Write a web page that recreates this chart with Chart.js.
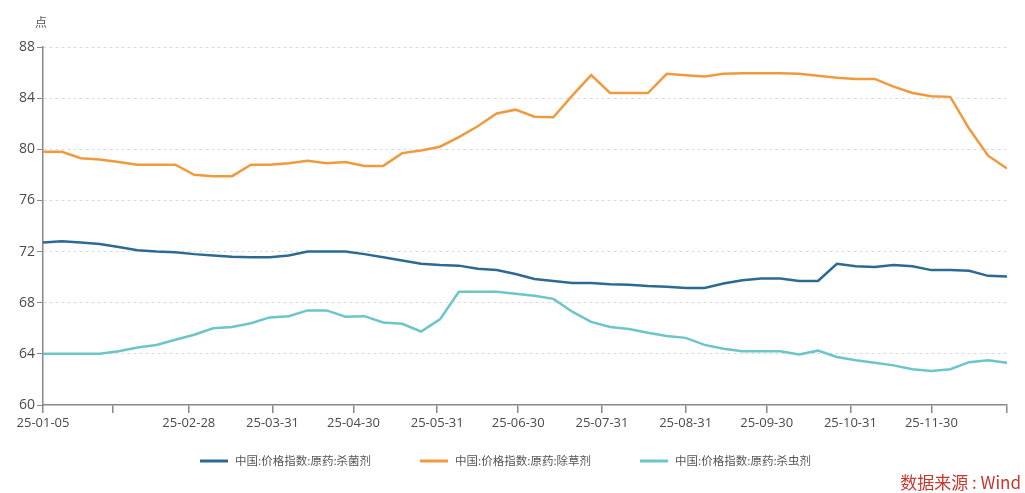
<!DOCTYPE html>
<html>
<head>
<meta charset="utf-8">
<script src="https://cdn.jsdelivr.net/npm/chart.js@4.4.1/dist/chart.umd.min.js"></script>
<style>
  html, body { margin: 0; padding: 0; background: #fff; }
  #wrap { width: 1025px; height: 493px; position: relative; }
</style>
</head>
<body>
<div id="wrap"><canvas id="priceChart"></canvas></div>
<script>
// Weekly dates (Sundays) of the index
const weekDates = [
    '2025-01-05', '2025-01-12', '2025-01-19', '2025-01-26',
    '2025-02-02', '2025-02-09', '2025-02-16', '2025-02-23',
    '2025-03-02', '2025-03-09', '2025-03-16', '2025-03-23', '2025-03-30',
    '2025-04-06', '2025-04-13', '2025-04-20', '2025-04-27',
    '2025-05-04', '2025-05-11', '2025-05-18', '2025-05-25',
    '2025-06-01', '2025-06-08', '2025-06-15', '2025-06-22', '2025-06-29',
    '2025-07-06', '2025-07-13', '2025-07-20', '2025-07-27',
    '2025-08-03', '2025-08-10', '2025-08-17', '2025-08-24', '2025-08-31',
    '2025-09-07', '2025-09-14', '2025-09-21', '2025-09-28',
    '2025-10-05', '2025-10-12', '2025-10-19', '2025-10-26',
    '2025-11-02', '2025-11-09', '2025-11-16', '2025-11-23', '2025-11-30',
    '2025-12-07', '2025-12-14', '2025-12-21', '2025-12-28'
];

// 杀菌剂 (fungicide)
const fungicide = [
    72.7, 72.8, 72.7, 72.6, 72.35, 72.1, 72.0, 71.95, 71.8, 71.7,
    71.6, 71.55, 71.55, 71.7, 72.0, 72.0, 72.0, 71.8, 71.55, 71.3,
    71.05, 70.95, 70.9, 70.65, 70.55, 70.25, 69.85, 69.7, 69.55, 69.55,
    69.45, 69.4, 69.3, 69.25, 69.15, 69.15, 69.5, 69.75, 69.9, 69.9,
    69.7, 69.7, 71.05, 70.85, 70.8, 70.95, 70.85, 70.55, 70.55, 70.5,
    70.1, 70.05
];

// 除草剂 (herbicide)
const herbicide = [
    79.8, 79.8, 79.3, 79.2, 79.0, 78.8, 78.8, 78.8, 78.0, 77.9,
    77.9, 78.8, 78.8, 78.9, 79.1, 78.9, 79.0, 78.7, 78.7, 79.7,
    79.9, 80.2, 80.95, 81.8, 82.8, 83.1, 82.55, 82.5, 84.2, 85.8,
    84.4, 84.4, 84.4, 85.9, 85.8, 85.7, 85.9, 85.95, 85.95, 85.95,
    85.9, 85.75, 85.6, 85.5, 85.5, 84.9, 84.4, 84.15, 84.1, 81.6,
    79.5, 78.5
];

// 杀虫剂 (insecticide)
const insecticide = [
    64.0, 64.0, 64.0, 64.0, 64.2, 64.5, 64.7, 65.1, 65.5, 66.0,
    66.1, 66.4, 66.85, 66.95, 67.4, 67.4, 66.9, 66.95, 66.45, 66.35,
    65.75, 66.7, 68.85, 68.85, 68.85, 68.7, 68.55, 68.3, 67.3, 66.5,
    66.1, 65.95, 65.65, 65.4, 65.25, 64.7, 64.4, 64.2, 64.2, 64.2,
    63.95, 64.25, 63.75, 63.5, 63.3, 63.1, 62.8, 62.65, 62.8, 63.35,
    63.5, 63.3
];

const seriesNames = ['中国:价格指数:原药:杀菌剂', '中国:价格指数:原药:除草剂', '中国:价格指数:原药:杀虫剂'];
const seriesColors = ['#2d6a93', '#f09a3e', '#6cc5c8'];

// x axis ticks (month ends), the first and last one mark the ends of the axis
const tickDates = ['2025-01-05', '2025-01-31', '2025-02-28', '2025-03-31', '2025-04-30', '2025-05-31',
    '2025-06-30', '2025-07-31', '2025-08-31', '2025-09-30', '2025-10-31', '2025-11-30', '2025-12-28'];
const tickLabels = ['25-01-05', '', '25-02-28', '25-03-31', '25-04-30', '25-05-31',
    '25-06-30', '25-07-31', '25-08-31', '25-09-30', '25-10-31', '25-11-30', ''];

const yTicks = [60, 64, 68, 72, 76, 80, 84, 88];

// days since the first date
const startTime = Date.parse(weekDates[0]);
function dayNum(d) {
    return (Date.parse(d) - startTime) / 86400000;
}

function toPoints(values) {
    return values.map((v, i) => ({ x: dayNum(weekDates[i]), y: v }));
}

const tickDays = tickDates.map(dayNum);
const fontFamily = '"Open Sans", "Noto Sans CJK SC", sans-serif';

// draws the unit, the legend and the source note
const extrasPlugin = {
    id: 'extras',
    afterDraw(chart) {
        const ctx = chart.ctx;
        ctx.save();

        // unit above the y axis
        ctx.fillStyle = '#555';
        ctx.font = '12px "Noto Sans CJK SC"';
        ctx.textAlign = 'center';
        ctx.textBaseline = 'middle';
        ctx.fillText('点', 41, 22);

        // legend
        const legendX = [200, 420, 640];
        const legendY = 461;
        ctx.font = '11.5px "Noto Sans CJK SC"';
        ctx.textAlign = 'left';
        chart.data.datasets.forEach((ds, i) => {
            ctx.strokeStyle = ds.borderColor;
            ctx.lineWidth = 3;
            ctx.beginPath();
            ctx.moveTo(legendX[i], legendY);
            ctx.lineTo(legendX[i] + 28, legendY);
            ctx.stroke();
            ctx.fillStyle = '#555';
            ctx.fillText(ds.label, legendX[i] + 35, legendY);
        });

        // source
        ctx.fillStyle = '#c8372d';
        ctx.font = '17px "Noto Sans CJK SC"';
        ctx.textAlign = 'right';
        ctx.fillText('数据来源 : Wind', 1021, 483);
        ctx.restore();
    }
};

const ctx = document.getElementById('priceChart').getContext('2d');
new Chart(ctx, {
    type: 'line',
    data: {
        datasets: [fungicide, herbicide, insecticide].map((vals, i) => ({
            label: seriesNames[i],
            data: toPoints(vals),
            borderColor: seriesColors[i],
            backgroundColor: seriesColors[i],
            borderWidth: 2.5,
            pointRadius: 0,
            tension: 0,
            fill: false
        }))
    },
    options: {
        responsive: true,
        maintainAspectRatio: false,
        animation: false,
        layout: {
            padding: { left: 0, right: 18, top: 47, bottom: 58 }
        },
        plugins: {
            legend: { display: false },
            tooltip: { enabled: false }
        },
        scales: {
            x: {
                type: 'linear',
                min: tickDays[0],
                max: tickDays[tickDays.length - 1],
                afterBuildTicks: scale => {
                    scale.ticks = tickDays.map(v => ({ value: v }));
                },
                afterFit: scale => { scale.height = 30; },
                ticks: {
                    autoSkip: false,
                    maxRotation: 0,
                    padding: 2,
                    color: '#4a4a4a',
                    font: { family: fontFamily, size: 13 },
                    callback: (value, index) => tickLabels[index]
                },
                grid: {
                    drawOnChartArea: false,
                    drawTicks: true,
                    tickLength: 8,
                    color: '#888',
                    lineWidth: 1.5
                },
                border: { display: true, color: '#888', width: 1.5 }
            },
            y: {
                min: 60,
                max: 88,
                afterBuildTicks: scale => {
                    scale.ticks = yTicks.map(v => ({ value: v }));
                },
                afterFit: scale => { scale.width = 43; },
                ticks: {
                    padding: 2,
                    color: '#4a4a4a',
                    font: { family: fontFamily, size: 14 }
                },
                grid: {
                    color: ctx => ctx.tick && ctx.tick.value === 60 ? 'rgba(0,0,0,0)' : '#dadada',
                    tickColor: '#888',
                    tickLength: 6,
                    lineWidth: 1
                },
                border: { display: true, color: '#888', width: 1.5, dash: [3, 3] }
            }
        }
    },
    plugins: [extrasPlugin]
});
</script>
</body>
</html>
